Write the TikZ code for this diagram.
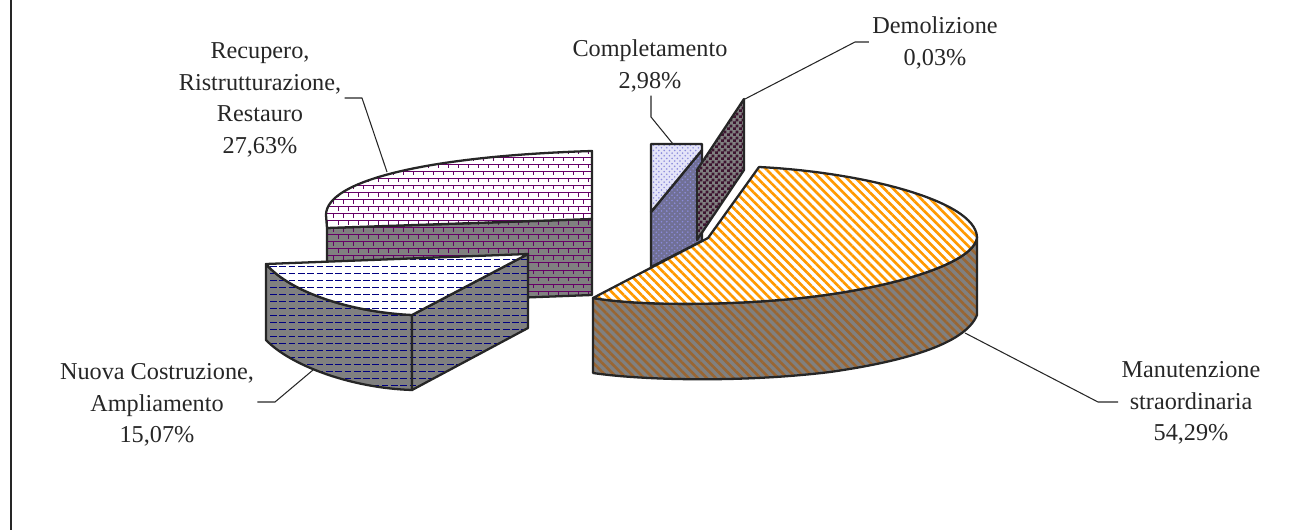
\documentclass[tikz,border=0pt]{standalone}
\usepackage{fontspec}
\setmainfont{Liberation Serif}
\usetikzlibrary{patterns,patterns.meta}

\definecolor{sidegray}{RGB}{128,128,128}
\definecolor{brickpurple}{RGB}{102,0,102}
\definecolor{dashnavy}{RGB}{0,0,128}
\definecolor{stripeorange}{RGB}{255,153,0}
\definecolor{stripebrown}{RGB}{153,102,51}
\definecolor{dotlilac}{RGB}{140,140,220}
\definecolor{lilactop}{RGB}{228,228,248}
\definecolor{slateside}{RGB}{112,112,150}
\definecolor{checkmaroon}{RGB}{62,20,48}
\definecolor{inkgray}{RGB}{38,38,38}

% small bricks, as the chart program draws them
\pgfdeclarepatternformonly{tinybricks}{\pgfqpoint{-0.5pt}{-0.5pt}}{\pgfqpoint{6.2pt}{8.5pt}}{\pgfqpoint{5.7pt}{8pt}}{%
  \pgfsetlinewidth{0.5pt}
  \pgfpathmoveto{\pgfqpoint{0pt}{0pt}}\pgfpathlineto{\pgfqpoint{5.7pt}{0pt}}
  \pgfpathmoveto{\pgfqpoint{0pt}{4pt}}\pgfpathlineto{\pgfqpoint{5.7pt}{4pt}}
  \pgfpathmoveto{\pgfqpoint{1.4pt}{4pt}}\pgfpathlineto{\pgfqpoint{1.4pt}{1.8pt}}
  \pgfpathmoveto{\pgfqpoint{4.25pt}{8pt}}\pgfpathlineto{\pgfqpoint{4.25pt}{5.8pt}}
  \pgfusepath{stroke}}
% dashed horizontal lines
\pgfdeclarepatternformonly{navydash}{\pgfqpoint{-0.5pt}{-0.5pt}}{\pgfqpoint{5.8pt}{4.5pt}}{\pgfqpoint{5.3pt}{4pt}}{%
  \pgfsetlinewidth{0.6pt}
  \pgfpathmoveto{\pgfqpoint{0pt}{2pt}}\pgfpathlineto{\pgfqpoint{3.8pt}{2pt}}
  \pgfusepath{stroke}}
% a finer checkerboard
\pgfdeclarepatternformonly{tinychecks}{\pgfpointorigin}{\pgfqpoint{3.2pt}{3.2pt}}{\pgfqpoint{3.2pt}{3.2pt}}{%
  \pgfpathrectangle{\pgfpointorigin}{\pgfqpoint{1.65pt}{1.65pt}}
  \pgfpathrectangle{\pgfqpoint{1.6pt}{1.6pt}}{\pgfqpoint{1.65pt}{1.65pt}}
  \pgfusepath{fill}}

\begin{document}
\begin{tikzpicture}[x=0.02cm, y=-0.02cm, line join=round,
    facet/.style n args={3}{fill=#1,
      postaction={pattern={#2}, pattern color=#3},
      postaction={draw=inkgray, line width=1.3pt}},
    recside/.style={facet={sidegray}{tinybricks}{brickpurple}},
    rectop/.style={facet={white}{tinybricks}{brickpurple}},
    nuoside/.style={facet={sidegray}{navydash}{dashnavy}},
    nuotop/.style={facet={white}{navydash}{dashnavy}},
    manside/.style={facet={sidegray}{Lines[angle=-45,distance=3.6pt,line width=1.5pt]}{stripebrown}},
    mantop/.style={facet={white}{Lines[angle=-45,distance=3.6pt,line width=1.5pt]}{stripeorange}},
    comside/.style={facet={slateside}{crosshatch dots}{dotlilac}},
    comtop/.style={facet={lilactop}{crosshatch dots}{dotlilac}},
    demside/.style={facet={sidegray}{tinychecks}{checkmaroon}},
    leader/.style={draw=inkgray, line width=0.6pt},
    slicelabel/.style={align=center, text=inkgray, inner sep=0pt, outer sep=2pt,
      font=\fontsize{13.8}{17.9}\selectfont}]

% the picture is in pixels of the chart, y pointing down
\useasboundingbox (0,0) rectangle (1308,530);
\draw[line width=1.5pt, draw=inkgray] (11,0) -- (11,530);

% Completamento and Demolizione, the thin slices at the back
\path[comside] (651,212) -- (702,150) -- (702,241) -- (651,267) -- cycle;
\path[comtop] (651,144) -- (702,144) -- (702,150) -- (651,212) -- cycle;
\path[demside] (697,170) -- (744,99) -- (744,170) -- (697,240) -- cycle;

% Recupero, Ristrutturazione, Restauro
\path[recside] (327,228) -- (592,219) -- (592,295) -- (327,305) -- cycle;
\path[rectop] (592,219) -- (592,151) .. controls (430,156) and (326,180) .. (326,215)
  -- (327,228) -- cycle;

% Nuova Costruzione, Ampliamento
\path[nuoside] (266,264) .. controls (290,292) and (350,312) .. (412,315) -- (412,390)
  .. controls (350,388) and (290,365) .. (266,340) -- cycle;
\path[nuoside] (412,315) -- (528,254) -- (528,328) -- (412,390) -- cycle;
\path[nuotop] (266,264) -- (528,254) -- (412,315)
  .. controls (350,312) and (290,292) .. (266,264) -- cycle;

% Manutenzione straordinaria
\path[manside] (593,298) .. controls (640,306) and (720,305) .. (780,300)
  .. controls (880,292) and (975,265) .. (977,237) -- (977,315)
  .. controls (965,345) and (900,362) .. (830,372)
  .. controls (740,383) and (640,380) .. (593,373) -- cycle;
\path[mantop] (593,298) -- (708,238) -- (759,167) .. controls (860,172) and (975,200) .. (977,237)
  .. controls (975,265) and (880,292) .. (780,300)
  .. controls (720,305) and (640,306) .. (593,298) -- cycle;

% labels
\node[slicelabel] (recLabel) at (260,100) {Recupero,\\Ristrutturazione,\\Restauro\\27,63\%};
\node[slicelabel] (nuoLabel) at (157,405) {Nuova Costruzione,\\Ampliamento\\15,07\%};
\node[slicelabel] (comLabel) at (650,66) {Completamento\\2,98\%};
\node[slicelabel] (demLabel) at (935,43) {Demolizione\\0,03\%};
\node[slicelabel] (manLabel) at (1191,403) {Manutenzione\\straordinaria\\54,29\%};

% leader lines
\coordinate (recBend) at (362,98);  \coordinate (recTip) at (387,172);
\coordinate (nuoBend) at (275,402); \coordinate (nuoTip) at (313,370);
\coordinate (comBend) at (651,117); \coordinate (comTip) at (673,144);
\coordinate (demBend) at (855,42);  \coordinate (demTip) at (745,99);
\coordinate (manBend) at (1098,402); \coordinate (manTip) at (965,333);
\draw[leader] (recLabel.east |- recBend) -- (recBend) -- (recTip);
\draw[leader] (nuoLabel.east |- nuoBend) -- (nuoBend) -- (nuoTip);
\draw[leader] (comLabel.south -| comBend) -- (comBend) -- (comTip);
\draw[leader] (demLabel.west |- demBend) -- (demBend) -- (demTip);
\draw[leader] (manLabel.west |- manBend) -- (manBend) -- (manTip);
\end{tikzpicture}
\end{document}
